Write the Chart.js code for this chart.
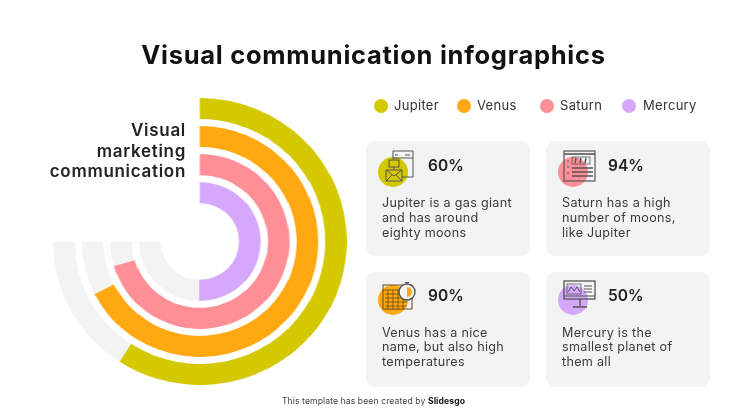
<!DOCTYPE html>
<html><head><meta charset="utf-8">
<script src="https://cdn.jsdelivr.net/npm/chart.js@4/dist/chart.umd.min.js"></script>
<style>
html,body{margin:0;padding:0;background:#fff;width:747px;height:420px;overflow:hidden;font-family:Inter,"Open Sans",sans-serif;color:#1d1d1d}
#page{position:absolute;left:0;top:0;width:747px;height:420px;filter:blur(.35px)}
.abs{position:absolute;white-space:nowrap}
#title{left:0;width:747px;top:39px;text-align:center;font-size:25.5px;letter-spacing:.72px;font-weight:700;color:#111}
#ringwrap{position:absolute;left:53px;top:98px;width:287px;height:287px;transform-origin:0 0;transform:scaleX(1.024)}
#side{right:561px;top:120px;text-align:right;font-size:17px;letter-spacing:.7px;font-weight:600;line-height:20.5px;color:#222}
.dot{position:absolute;width:14px;height:14px;border-radius:50%;top:99px}
.leg{top:97px;font-size:13px;letter-spacing:.3px;line-height:16px;color:#333}
.card{position:absolute;width:164px;height:115px;background:#f3f3f3;border-radius:9px}
.pct{position:absolute;left:62px;font-size:15.5px;font-weight:600;color:#222}
.txt{position:absolute;left:16px;font-size:12.6px;letter-spacing:.3px;line-height:14.8px;color:#3a3a3a;white-space:nowrap}
.ic{position:absolute;left:11px;top:8px}
#foot{left:0;width:747px;top:396px;text-align:center;font-size:8.6px;letter-spacing:.1px;color:#444}
#foot b{color:#111}
</style></head><body>
<div id="page">
<div id="title" class="abs">Visual communication infographics</div>
<div id="ringwrap"><canvas id="c" width="287" height="287"></canvas></div>
<div id="side" class="abs">Visual<br>marketing<br>communication</div>
<div id="legend"></div>
<div id="cards"></div>
<div id="foot" class="abs">This template has been created by <b>Slidesgo</b></div>
</div>
<script>
const planets = ["Jupiter","Venus","Saturn","Mercury"];
const colors = ["#d4c800","#ffa812","#ff8f97","#d6a8fb"];
const trackColor = "#f3f3f3";
// share of the 270-degree track covered by each ring
const arcShare = [79,90,94,67];
const trackRest = [21,10,6,33];
const cardPct = ["60%","94%","90%","50%"];
const cardPlanet = [0,2,1,3];
const cardText = ["Jupiter is a gas giant<br>and has around<br>eighty moons","Saturn has a high<br>number of moons,<br>like Jupiter","Venus has a nice<br>name, but also high<br>temperatures","Mercury is the<br>smallest planet of<br>them all"];
const cardPos = [[366,141],[546,141],[366,272],[546,272]];
const pctTop = [15,15,14,14];
const txtTop = [55,55,53.5,53.5];
const circleY = [23,23,20,20];
const legendX = [374,457,540,622];
const legendTextX = [394,477,560,643];

const datasets = [];
planets.forEach((p,i)=>{
  datasets.push({label:p,data:[arcShare[i],trackRest[i]],backgroundColor:[colors[i],trackColor],borderWidth:0,weight:21});
  if(i<planets.length-1) datasets.push({label:"",data:[arcShare[i],trackRest[i]],backgroundColor:"rgba(0,0,0,0)",borderWidth:0,weight:7});
});
new Chart(document.getElementById("c"),{type:"doughnut",
  data:{labels:["Covered","Remaining"],datasets},
  options:{responsive:false,animation:false,rotation:0,circumference:270,cutout:"26.7%",
    layout:{padding:0},plugins:{legend:{display:false},tooltip:{enabled:false}}}});

const icons = [
 `<path d="M16 10V2h20v7H16M36 9v19h-11M18 6h3M28 6h5" fill="none" stroke="#555"/><rect x="12" y="11" width="10" height="7" fill="none" stroke="#555"/><path d="M17 18v3M9 21h16v11H9zM9 21l8 6 8-6M9 32l6-6M25 32l-6-6" fill="none" stroke="#555"/>`,
 `<rect x="7" y="2" width="31" height="30" fill="none" stroke="#555" stroke-width="1.2"/><line x1="7" y1="5" x2="38" y2="5" stroke="#555" stroke-width="1.6"/><rect x="15" y="8" width="18" height="7" fill="none" stroke="#555" stroke-width=".8"/><path d="M19 9l-1 5M24 9l-1 5M29 9l-1 5M15 19h21M15 23h21M15 27h21" stroke="#555" stroke-width="1.5"/><path d="M10 12h2M10 18h2M10 24h2" stroke="#555"/>`,
 `<rect x="6" y="5" width="29" height="24" fill="none" stroke="#6a4a10"/><path d="M6 10h24M8 14h22M8 18h22M8 22h22M8 26h22M11 10v19M16 10v19M21 10v19M26 10v19" stroke="#6a4a10" stroke-width=".8"/><circle cx="30" cy="12" r="8" fill="#f3f3f3" stroke="#555" stroke-width="1.4"/><path d="M30 12V7a5 5 0 0 1 0 10z" fill="#ffa812"/><path d="M28 2.5h4M30 2.5v2" stroke="#555"/>`,
 `<rect x="7" y="1" width="31" height="18" fill="none" stroke="#555" stroke-width="1.3"/><line x1="7" y1="16" x2="38" y2="16" stroke="#555"/><rect x="10" y="4" width="14" height="10" fill="none" stroke="#555" stroke-width=".8"/><path d="M11 12l3-5 3 4 3-4 3 5" fill="none" stroke="#555"/><path d="M27 6h8M27 9h8M27 12h8" stroke="#555"/><path d="M23 19v7M16 27h14" stroke="#555" stroke-width="1.4"/>`
];
const legend=document.getElementById("legend");
planets.forEach((p,i)=>{
  legend.insertAdjacentHTML("beforeend",`<div class="dot" style="left:${legendX[i]}px;background:${colors[i]}"></div><div class="abs leg" style="left:${legendTextX[i]}px">${p}</div>`);
});
const cards=document.getElementById("cards");
cardPct.forEach((t,i)=>{
  const c=colors[cardPlanet[i]];
  cards.insertAdjacentHTML("beforeend",`<div class="card" style="left:${cardPos[i][0]}px;top:${cardPos[i][1]}px"><svg class="ic" width="48" height="40"><circle cx="16" cy="${circleY[i]}" r="15" fill="${c}"/>${icons[i]}</svg><div class="pct" style="top:${pctTop[i]}px">${t}</div><div class="txt" style="top:${txtTop[i]}px">${cardText[i]}</div></div>`);
});
</script>
</body></html>
